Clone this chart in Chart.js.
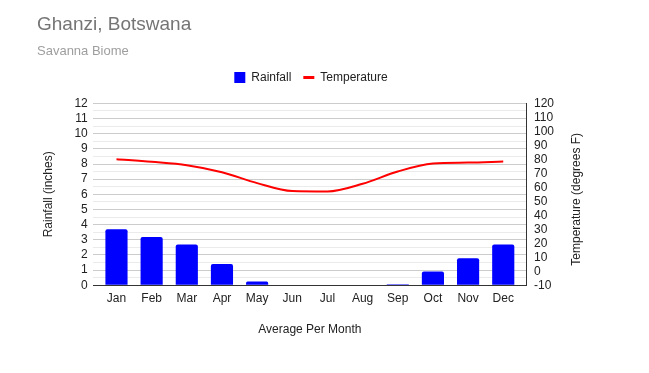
<!DOCTYPE html>
<html>
<head>
<meta charset="utf-8">
<script src="https://cdn.jsdelivr.net/npm/chart.js@4"></script>
<style>
  html, body { margin: 0; padding: 0; background: #fff; }
  #wrap { width: 649px; height: 373px; }
</style>
</head>
<body>
<div id="wrap"><canvas id="climate-chart"></canvas></div>
<script>
const months = ['Jan', 'Feb', 'Mar', 'Apr', 'May', 'Jun', 'Jul', 'Aug', 'Sep', 'Oct', 'Nov', 'Dec'];
const rainfall = [3.7, 3.18, 2.68, 1.4, 0.24, 0, 0, 0, 0.06, 0.9, 1.78, 2.68];
const temperature = [80.1, 78.2, 75.8, 70.8, 63, 57.3, 57, 62.5, 71.3, 77, 77.7, 78.4];

const FONT = 'Arial, "Liberation Sans", sans-serif';
Chart.defaults.font.family = FONT;
Chart.defaults.color = '#222';

const ctx = document.getElementById('climate-chart');

// months sit on a linear x axis so the bars can be inset from the plot edges
const toPoints = function (values) {
    return values.map((v, i) => ({ x: i, y: v }));
};

// extra room under the legend, and nudge it right
const legendGap = {
    id: 'legendGap',
    beforeInit(chart) {
        const fit = chart.legend.fit;
        chart.legend.fit = function () {
            fit.bind(chart.legend)();
            this.height += 10;
        };
    },
    afterLayout(chart) {
        chart.legend.left += 12;
        chart.legend.right += 12;
    }
};

// right axis title, reading bottom to top
const rightTitle = {
    id: 'rightTitle',
    afterDraw(chart) {
        const area = chart.chartArea;
        const c = chart.ctx;
        c.save();
        c.translate(577, (area.top + area.bottom) / 2 + 5);
        c.rotate(-Math.PI / 2);
        c.font = '12px ' + FONT;
        c.fillStyle = '#222';
        c.textAlign = 'center';
        c.textBaseline = 'middle';
        c.fillText('Temperature (degrees F)', 0, 0);
        c.restore();
    }
};

new Chart(ctx, {
    type: 'bar',
    data: {
        datasets: [
            {
                type: 'line',
                label: 'Temperature',
                data: toPoints(temperature),
                yAxisID: 'yTemp',
                borderColor: '#ff0000',
                backgroundColor: '#ff0000',
                borderWidth: 2,
                cubicInterpolationMode: 'monotone',
                pointRadius: 0,
                pointStyle: 'line',
                order: 0
            },
            {
                type: 'bar',
                label: 'Rainfall',
                data: toPoints(rainfall),
                yAxisID: 'yRain',
                backgroundColor: '#0000ff',
                borderRadius: 2,
                borderSkipped: 'bottom',
                categoryPercentage: 0.63,
                barPercentage: 1,
                pointStyle: 'rect',
                order: 1
            }
        ]
    },
    options: {
        responsive: true,
        maintainAspectRatio: false,
        animation: false,
        layout: {
            padding: { left: 37, right: 88, top: 10, bottom: 32 }
        },
        scales: {
            x: {
                type: 'linear',
                min: -0.675,
                max: 11.675,
                offset: false,
                grid: { display: false, drawTicks: false },
                border: { display: false },
                afterBuildTicks: function (axis) {
                    axis.ticks = months.map((m, i) => ({ value: i }));
                },
                ticks: {
                    font: { size: 12 },
                    padding: 6,
                    maxRotation: 0,
                    autoSkip: false,
                    callback: function (value) {
                        return months[value];
                    }
                },
                title: {
                    display: true,
                    text: 'Average Per Month',
                    font: { size: 12 },
                    padding: { top: 11 }
                }
            },
            yRain: {
                position: 'left',
                min: 0,
                max: 12,
                grid: {
                    drawTicks: false,
                    color: function (c) {
                        if (c.tick.value === 0) return '#333';
                        return Number.isInteger(c.tick.value) ? '#cccccc' : '#ebebeb';
                    }
                },
                border: { display: false },
                ticks: {
                    stepSize: 0.5,
                    autoSkip: false,
                    padding: 5,
                    font: { size: 12 },
                    callback: function (value) {
                        return Number.isInteger(value) ? value : '';
                    }
                },
                title: {
                    display: true,
                    text: 'Rainfall (inches)',
                    font: { size: 12 },
                    padding: { bottom: 14 }
                }
            },
            yTemp: {
                position: 'right',
                min: -10,
                max: 120,
                grid: { display: false, drawTicks: false },
                border: { display: true, color: '#333', width: 1 },
                ticks: {
                    stepSize: 10,
                    autoSkip: false,
                    padding: 7,
                    font: { size: 12 }
                }
            }
        },
        plugins: {
            title: {
                display: true,
                text: 'Ghanzi, Botswana',
                align: 'start',
                color: '#757575',
                font: { size: 19, weight: 'normal' },
                padding: { top: 3, bottom: 8 }
            },
            subtitle: {
                display: true,
                text: 'Savanna Biome',
                align: 'start',
                color: '#9e9e9e',
                font: { size: 13 },
                padding: { bottom: 0 }
            },
            legend: {
                display: true,
                position: 'top',
                reverse: true,
                labels: {
                    usePointStyle: true,
                    boxWidth: 11,
                    boxHeight: 11,
                    pointStyleWidth: 11,
                    font: { size: 12 },
                    padding: 12,
                    generateLabels: function (chart) {
                        const items = Chart.defaults.plugins.legend.labels.generateLabels(chart);
                        items.forEach(item => {
                            if (item.pointStyle === 'line') item.lineWidth = 3;
                        });
                        return items;
                    }
                }
            },
            tooltip: { enabled: false }
        }
    },
    plugins: [legendGap, rightTitle]
});
</script>
</body>
</html>
